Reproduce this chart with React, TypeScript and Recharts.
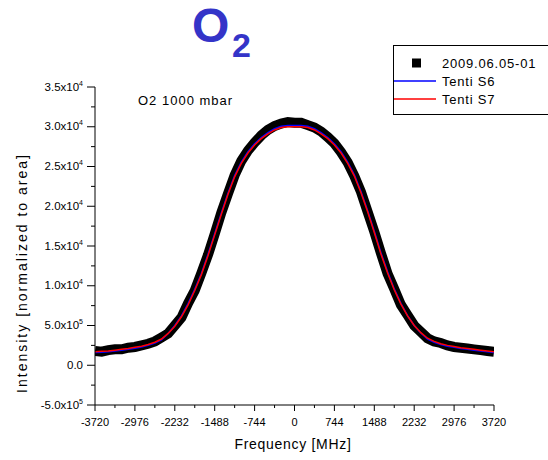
import React from 'react';
import { ComposedChart, Line, XAxis, YAxis, Legend } from 'recharts';

// Frequency grid [MHz]
const freq = [
  -3720, -3596, -3472, -3348, -3224, -3100, -2976, -2852, -2728, -2604, -2480,
  -2356, -2232, -2108, -1984, -1860, -1736, -1612, -1488, -1364, -1240, -1116,
  -992, -868, -744, -620, -496, -372, -248, -124, 0, 124, 248, 372, 496, 620,
  744, 868, 992, 1116, 1240, 1364, 1488, 1612, 1736, 1860, 1984, 2108, 2232,
  2356, 2480, 2604, 2728, 2852, 2976, 3100, 3224, 3348, 3472, 3596, 3720,
];

// Intensity values in units of 1e-5
const measured = [
  1.8, 1.7, 1.9, 2.0, 2.0, 2.2, 2.3, 2.5, 2.7, 3.0, 3.5,
  4.0, 5.0, 6.0, 7.8, 9.4, 11.6, 13.9, 16.5, 19.2, 21.6, 23.9,
  25.7, 27.0, 28.0, 28.9, 29.6, 30.1, 30.4, 30.6, 30.5, 30.5, 30.2, 29.9, 29.4, 28.7,
  27.9, 26.8, 25.5, 23.8, 21.8, 19.3, 16.8, 14.1, 11.5, 9.6, 7.6, 6.3, 5.0,
  4.2, 3.4, 3.0, 2.8, 2.5, 2.3, 2.2, 2.1, 2.0, 1.9, 1.8, 1.7,
];

const tentiS6 = [
  1.6, 1.65, 1.7, 1.8, 1.9, 2.0, 2.15, 2.3, 2.5, 2.8, 3.2,
  4.0, 5.0, 6.2, 7.75, 9.55, 11.55, 13.95, 16.55, 19.15, 21.65, 23.85,
  25.55, 26.85, 27.85, 28.65, 29.25, 29.75, 30.05, 30.15, 30.15, 30.15, 30.05, 29.75, 29.25, 28.65,
  27.85, 26.85, 25.55, 23.95, 21.85, 19.45, 16.85, 14.15, 11.75, 9.6, 7.8,
  6.25, 5.0, 4.05, 3.3, 2.9, 2.6, 2.4, 2.25, 2.1, 2.0, 1.9, 1.8, 1.7, 1.6,
];

const tentiS7 = [
  1.7, 1.75, 1.8, 1.9, 2.0, 2.1, 2.25, 2.4, 2.6, 2.9, 3.3,
  4.0, 4.9, 6.1, 7.6, 9.4, 11.4, 13.8, 16.4, 19.0, 21.5, 23.7,
  25.4, 26.7, 27.7, 28.5, 29.1, 29.6, 29.9, 30.0, 30.0, 30.0, 29.9, 29.6, 29.1, 28.5,
  27.7, 26.7, 25.4, 23.8, 21.7, 19.3, 16.7, 14.0, 11.6, 9.5, 7.7, 6.2, 5.0,
  4.1, 3.4, 3.0, 2.7, 2.5, 2.35, 2.2, 2.1, 2.0, 1.9, 1.8, 1.7,
];

const seriesNames = ['2009.06.05-01', 'Tenti S6', 'Tenti S7'];

// X axis ticks
const xAllTicks = [
  -3720, -3348, -2976, -2604, -2232, -1860, -1488, -1116, -744, -372, 0,
  372, 744, 1116, 1488, 1860, 2232, 2604, 2976, 3348, 3720,
];
const xMajorTicks = [-3720, -2976, -2232, -1488, -744, 0, 744, 1488, 2232, 2976, 3720];
const xTickLabels = ['-3720', '-2976', '-2232', '-1488', '-744', '0', '744', '1488', '2232', '2976', '3720'];

// Y axis ticks (units of 1e-5)
const yAllTicks = [-5, -2.5, 0, 2.5, 5, 7.5, 10, 12.5, 15, 17.5, 20, 22.5, 25, 27.5, 30, 32.5, 35];
const yMajorTicks = [-5, 0, 5, 10, 15, 20, 25, 30, 35];
const yTickMantissa = ['-5.0x10', '0.0', '5.0x10', '1.0x10', '1.5x10', '2.0x10', '2.5x10', '3.0x10', '3.5x10'];
const yTickExponent = ['5', '', '5', '4', '4', '4', '4', '4', '4'];

const FONT = '"Liberation Sans", Arial, Helvetica, sans-serif';

const data = freq.map((f, i) => ({
  f,
  meas: measured[i],
  s6: tentiS6[i],
  s7: tentiS7[i],
}));

const XTick = (props: any) => {
  const { x, y, payload } = props;
  const idx = xMajorTicks.indexOf(payload.value);
  const major = idx >= 0;
  return (
    <g>
      <line x1={x} x2={x} y1={y} y2={y + (major ? 6 : 3)} stroke="#000" strokeWidth={1} />
      {major && (
        <text x={x} y={y + 21} textAnchor="middle" fontSize={11} fontFamily={FONT} fill="#000">
          {xTickLabels[idx]}
        </text>
      )}
    </g>
  );
};

const YTick = (props: any) => {
  const { x, y, payload } = props;
  const idx = yMajorTicks.indexOf(payload.value);
  const major = idx >= 0;
  return (
    <g>
      <line x1={x} x2={x - (major ? 8 : 4)} y1={y} y2={y} stroke="#000" strokeWidth={1} />
      {major && (
        <text x={x - 12} y={y + 3.5} textAnchor="end" fontSize={11.5} fontFamily={FONT} fill="#000">
          <tspan>{yTickMantissa[idx]}</tspan>
          {yTickExponent[idx] && (
            <tspan dy={-5} fontSize={7}>
              {yTickExponent[idx]}
            </tspan>
          )}
        </text>
      )}
    </g>
  );
};

const renderLegend = (props: any) => {
  const payload = props.payload || [];
  return (
    <div
      style={{
        width: 155,
        height: 70,
        boxSizing: 'border-box',
        borderTop: '1px solid #000',
        borderLeft: '1px solid #000',
        borderBottom: '1px solid #000',
        background: '#fff',
      }}
    >
      <svg width={155} height={68} style={{ display: 'block' }}>
        {payload.map((entry: any, i: number) => {
          const cy = 17 + i * 18;
          const isSquare = entry.dataKey === 'meas';
          return (
            <g key={i}>
              {isSquare ? (
                <rect x={18} y={cy - 4.5} width={9} height={9} fill="#000" />
              ) : (
                <line x1={0} x2={42} y1={cy} y2={cy} stroke={entry.color} strokeWidth={1.5} />
              )}
              <text
                x={48}
                y={cy + 4.5}
                fontSize={13}
                letterSpacing={0.8}
                fontFamily={FONT}
                fill="#000"
              >
                {entry.value}
              </text>
            </g>
          );
        })}
      </svg>
    </div>
  );
};

export default function App() {
  return (
    <div style={{ position: 'absolute', left: 0, top: 0, width: 548, height: 460, background: '#fff' }}>
      <ComposedChart
        width={548}
        height={460}
        data={data}
        margin={{ top: 87, right: 54, bottom: 0, left: 0 }}
      >
        <XAxis
          dataKey="f"
          type="number"
          domain={[-3720, 3720]}
          ticks={xAllTicks}
          interval={0}
          tick={<XTick />}
          tickLine={false}
          tickSize={0}
          tickMargin={0}
          height={55}
          axisLine={{ stroke: '#000', strokeWidth: 1 }}
          allowDataOverflow
        />
        <YAxis
          type="number"
          domain={[-5, 35]}
          ticks={yAllTicks}
          interval={0}
          tick={<YTick />}
          tickLine={false}
          tickSize={0}
          tickMargin={0}
          width={95}
          axisLine={{ stroke: '#000', strokeWidth: 1 }}
          allowDataOverflow
        />
        <Legend
          content={renderLegend}
          layout="horizontal"
          verticalAlign="middle"
          align="center"
          wrapperStyle={{ left: 393, top: 45, width: 155, height: 70 }}
        />
        <Line
          dataKey="meas"
          name={seriesNames[0]}
          stroke="#000"
          strokeWidth={10}
          strokeLinejoin="miter"
          dot={false}
          legendType="square"
          isAnimationActive={false}
        />
        <Line
          dataKey="s6"
          name={seriesNames[1]}
          stroke="#0000FF"
          strokeWidth={1.5}
          dot={false}
          isAnimationActive={false}
        />
        <Line
          dataKey="s7"
          name={seriesNames[2]}
          stroke="#FF0000"
          strokeWidth={1.5}
          dot={false}
          isAnimationActive={false}
        />
      </ComposedChart>
      <svg
        width={548}
        height={460}
        style={{ position: 'absolute', left: 0, top: 0, pointerEvents: 'none' }}
      >
        <text x={192} y={42} fontSize={48} fontWeight="bold" fontFamily={FONT} fill="#3434C8">
          O
        </text>
        <text x={232} y={57} fontSize={34} fontWeight="bold" fontFamily={FONT} fill="#3434C8">
          2
        </text>
        <text x={138} y={105} fontSize={13} letterSpacing={1} fontFamily={FONT} fill="#000">
          O2 1000 mbar
        </text>
        <text
          x={293}
          y={449}
          textAnchor="middle"
          fontSize={14}
          letterSpacing={0.7}
          fontFamily={FONT}
          fill="#000"
        >
          Frequency [MHz]
        </text>
        <text
          x={0}
          y={0}
          transform="translate(27, 273) rotate(-90)"
          textAnchor="middle"
          fontSize={14}
          letterSpacing={2}
          fontFamily={FONT}
          fill="#000"
        >
          Intensity [normalized to area]
        </text>
      </svg>
    </div>
  );
}
